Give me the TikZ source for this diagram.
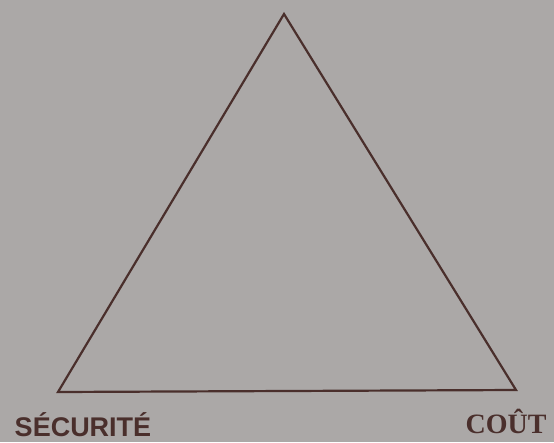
\documentclass[tikz,border=0pt]{standalone}
\usepackage{fontspec}
\setmainfont{Liberation Serif}
\newfontfamily\helv{Liberation Sans}
\definecolor{bg}{HTML}{ABA8A7}
\definecolor{ink}{HTML}{4A2F2C}
\begin{document}
\begin{tikzpicture}[x=1pt,y=-1pt,
  edge/.style={draw=ink,line width=2.2pt,line join=miter},
  lab/.style={text=ink,inner sep=0pt,anchor=base,text depth=0pt}]
\fill[bg] (0,0) rectangle (554,442);
\useasboundingbox (0,0) rectangle (554,442);
\coordinate (top) at (284,14);
\coordinate (bl) at (58,392);
\coordinate (br) at (516,390);
\draw[edge] (top) -- (bl) -- (br) -- cycle;
\node[lab] (sec) at (83,436.5) {\helv\bfseries\fontsize{27}{30}\selectfont SÉCURITÉ};
\node[lab] (cout) at (506,433) {\bfseries\fontsize{28}{32}\selectfont COÛT};
\end{tikzpicture}
\end{document}
